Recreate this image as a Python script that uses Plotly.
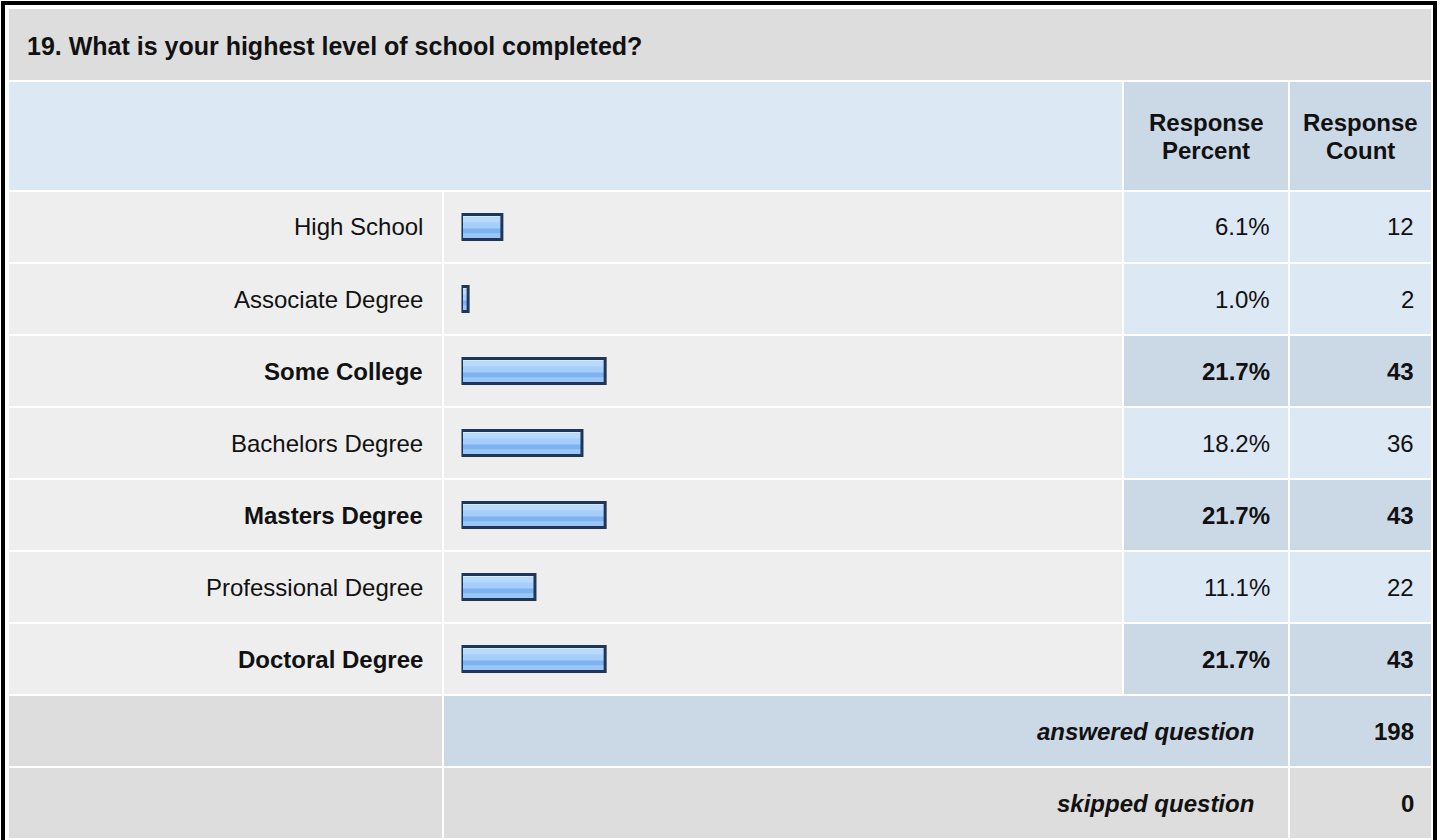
import plotly.graph_objects as go

# survey question data
title = "19. What is your highest level of school completed?"
categories = ["High School", "Associate Degree", "Some College", "Bachelors Degree",
              "Masters Degree", "Professional Degree", "Doctoral Degree"]
percents = [6.1, 1.0, 21.7, 18.2, 21.7, 11.1, 21.7]
counts = [12, 2, 43, 36, 43, 22, 43]
answered = 198
skipped = 0

W, H = 1440, 840
FONT = "Liberation Sans, Arial, sans-serif"
FS = 24

GRAY = "#dddddd"
LIGHT = "#eeeeee"
BLUE = "#dde8f5"
BLUE2 = "#cbd8e6"


def px(x):
    return x / W


def py(y):
    return 1 - y / H


# table layout in pixels
LEFT, RIGHT = 9, 1431
LABEL_R = 442
BAR_L, BAR_R = 444, 1122
PCT_L, PCT_R = 1124, 1288
CNT_L = 1290
ROW_TOP, ROW_H, ROW_STEP = 192, 70, 72

shapes = []
annotations = []


def cell(x0, x1, y0, y1, color):
    shapes.append(dict(type="rect", xref="paper", yref="paper",
                       x0=px(x0), x1=px(x1), y0=py(y1), y1=py(y0),
                       fillcolor=color, line_width=0, layer="below"))


def text(s, x, y, anchor="right", bold=False, italic=False, size=FS):
    annotations.append(dict(text=s, x=px(x), y=py(y), xref="paper", yref="paper",
                            xanchor=anchor, yanchor="middle", showarrow=False,
                            font=dict(family=FONT, size=size, color="#111111",
                                      weight="bold" if bold else "normal",
                                      style="italic" if italic else "normal")))


# title row
cell(LEFT, RIGHT, 9, 80, GRAY)
text(title, 25, 46, anchor="left", bold=True, size=25)

# header row
cell(LEFT, BAR_R, 82, 190, BLUE)
cell(PCT_L, PCT_R, 82, 190, BLUE2)
cell(CNT_L, RIGHT, 82, 190, BLUE2)
for cx, word in [((PCT_L + PCT_R) / 2, "Percent"), ((CNT_L + RIGHT) / 2, "Count")]:
    text("Response", cx, 122, anchor="center", bold=True)
    text(word, cx, 150, anchor="center", bold=True)

top_pct = max(percents)
for i, (cat, p, c) in enumerate(zip(categories, percents, counts)):
    y0 = ROW_TOP + i * ROW_STEP
    y1 = y0 + ROW_H
    ym = y0 + ROW_H / 2
    hi = p == top_pct
    cell(LEFT, LABEL_R, y0, y1, LIGHT)
    cell(BAR_L, BAR_R, y0, y1, LIGHT)
    cell(PCT_L, PCT_R, y0, y1, BLUE2 if hi else BLUE)
    cell(CNT_L, RIGHT, y0, y1, BLUE2 if hi else BLUE)
    text(cat, 425, ym, bold=hi)
    text(f"{p:.1f}%", 1272, ym, bold=hi)
    text(str(c), 1416, ym, bold=hi)

# summary rows
for j, (label, val, col) in enumerate([("answered question", answered, BLUE2),
                                       ("skipped question", skipped, GRAY)]):
    y0 = ROW_TOP + (len(categories) + j) * ROW_STEP
    y1 = y0 + ROW_H
    ym = y0 + ROW_H / 2
    cell(LEFT, LABEL_R, y0, y1, GRAY)
    cell(BAR_L, PCT_R, y0, y1, col)
    cell(CNT_L, RIGHT, y0, y1, col)
    text(label, 1256, ym, bold=True, italic=True)
    text(str(val), 1416, ym, bold=True)

# outer frame
shapes.append(dict(type="rect", xref="paper", yref="paper",
                   x0=px(3), x1=px(1435), y0=py(848), y1=py(3),
                   line=dict(color="#000000", width=4), fillcolor="rgba(0,0,0,0)",
                   layer="above"))

# bars: glossy look built from overlaid bands (pixel rows inside a 25px bar)
BAR_PX = 25
bands = [(0, 25, "#a6cefa"), (0, 3, "#d2e7fe"), (3, 8, "#b7d9fc"),
         (14, 19, "#7fb2f1"), (19, 25, "#99c6f8")]
unit = 1 / ROW_STEP  # category units per pixel
fig = go.Figure()
for b0, b1, color in bands:
    fig.add_trace(go.Bar(x=percents, y=categories, orientation="h",
                         marker=dict(color=color, line_width=0),
                         width=(b1 - b0) * unit,
                         offset=(b0 - BAR_PX / 2) * unit,
                         hoverinfo="skip", showlegend=False))
fig.add_trace(go.Bar(x=percents, y=categories, orientation="h",
                     marker=dict(color="rgba(0,0,0,0)",
                                 line=dict(color="#1f3657", width=3)),
                     width=BAR_PX * unit, offset=-BAR_PX / 2 * unit,
                     hoverinfo="skip", showlegend=False))

first_c = ROW_TOP + ROW_H / 2
last_c = first_c + (len(categories) - 1) * ROW_STEP
fig.update_layout(
    width=W, height=H,
    margin=dict(l=0, r=0, t=0, b=0),
    paper_bgcolor="white", plot_bgcolor="rgba(0,0,0,0)",
    barmode="overlay",
    shapes=shapes, annotations=annotations,
    xaxis=dict(range=[0, 100], domain=[px(461.5), px(1123.5)], visible=False,
               fixedrange=True),
    yaxis=dict(type="category", categoryorder="array", categoryarray=categories,
               range=[len(categories) - 0.5, -0.5],
               domain=[py(last_c + ROW_STEP / 2), py(first_c - ROW_STEP / 2)],
               visible=False, fixedrange=True),
)

# drop the default page margin so the figure sits at the window's top-left corner
fig.write_html("out.html", config={"displayModeBar": False},
               post_script="document.body.style.margin='0';")
